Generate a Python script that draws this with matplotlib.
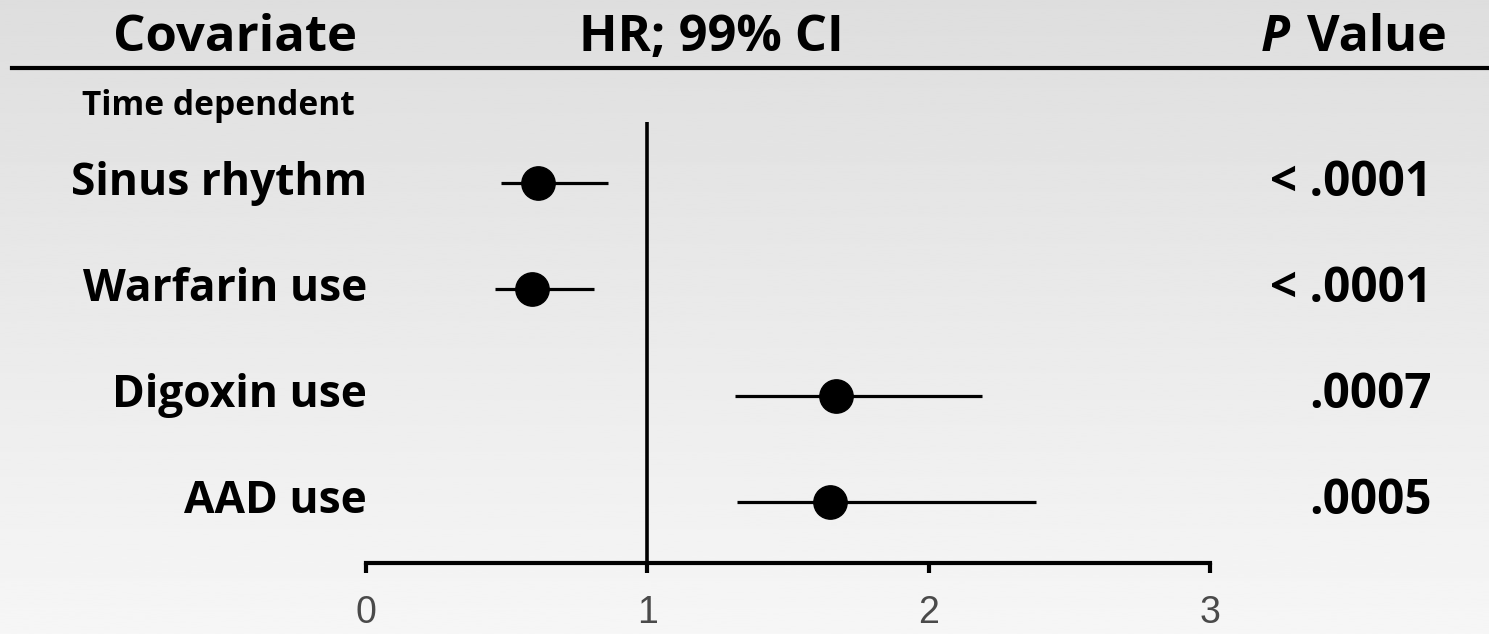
import matplotlib
matplotlib.use("Agg")
import matplotlib.pyplot as plt
import numpy as np
from matplotlib.lines import Line2D

# forest plot values
covariates = ["Sinus rhythm", "Warfarin use", "Digoxin use", "AAD use"]
hr = [0.61, 0.59, 1.67, 1.65]
ci_low = [0.48, 0.46, 1.31, 1.32]
ci_high = [0.86, 0.81, 2.19, 2.38]
p_values = ["< .0001", "< .0001", ".0007", ".0005"]
xticks = [0, 1, 2, 3]

W, H = 1489, 634
font = "Open Sans"

def fx(px):
    return px / W

def fy(py):
    return 1 - py / H

fig = plt.figure(figsize=(W / 100, H / 100), dpi=100)
r = fig.canvas.get_renderer()

def fit_text(x, y, s, width, ha="right", **kw):
    # size the text so its width matches the width seen in the picture
    t = fig.text(fx(x), fy(y), s, ha=ha, va="center", fontsize=20,
                 fontweight="bold", family=font, **kw)
    w = t.get_window_extent(renderer=r).width
    t.set_fontsize(20 * width / w)
    return t

# background gradient
bg = fig.add_axes([0, 0, 1, 1], zorder=-10)
grad = np.linspace(0.87, 0.965, 256).reshape(-1, 1)
bg.imshow(grad, aspect="auto", cmap="gray", vmin=0, vmax=1, extent=[0, 1, 0, 1])
bg.axis("off")

# main plot area: x=0 at px 366, x=3 at px 1210
n = len(covariates)
ypos = np.arange(n, 0, -1)
ax = fig.add_axes([fx(366), fy(563), fx(1210 - 366), (563 - 122) / H])
ax.patch.set_alpha(0)
ax.set_xlim(0, 3)
ax.set_ylim(0.426, n + 0.574)

for y, m, lo, hi in zip(ypos, hr, ci_low, ci_high):
    ax.plot([lo, hi], [y, y], color="black", lw=2.3, solid_capstyle="butt", zorder=3)
    ax.plot(m, y, "o", color="black", ms=24, zorder=4)

ax.axvline(1, color="black", lw=2.6, zorder=2)

for s in ["top", "left", "right"]:
    ax.spines[s].set_visible(False)
ax.spines["bottom"].set_linewidth(3)
ax.set_yticks([])
ax.set_xticks(xticks)
ax.set_xticklabels([str(t) for t in xticks])
ax.tick_params(axis="x", direction="out", length=7, width=3, pad=16,
               labelsize=27, labelcolor="#4a4a4a")
for lab in ax.get_xticklabels():
    lab.set_fontfamily("Liberation Sans")

# header
fit_text(235, 38, "Covariate", 244, ha="center")
fit_text(711, 38, "HR; 99% CI", 265, ha="center")
tv = fit_text(1447, 38, "Value", 140)
bb = tv.get_window_extent(renderer=r)
fig.text((bb.x0 - 17) / W, fy(38), "P", ha="right", va="center",
         fontsize=tv.get_fontsize(), fontweight="bold", style="italic",
         family=font)
fig.add_artist(Line2D([fx(12), 1], [fy(68), fy(68)], color="black", lw=3,
                      transform=fig.transFigure))

fit_text(355, 106, "Time dependent", 273)

# row labels and p values
row_size = None
p_size = None
for y, name, p in zip(ypos, covariates, p_values):
    ty = H - ax.transData.transform((0, y))[1]
    if row_size is None:
        row_size = fit_text(367, ty, name, 295).get_fontsize()
        p_size = fit_text(1432, ty, p, 162).get_fontsize()
        continue
    fig.text(fx(367), fy(ty), name, ha="right", va="center",
             fontsize=row_size, fontweight="bold", family=font)
    fig.text(fx(1432), fy(ty), p, ha="right", va="center",
             fontsize=p_size, fontweight="bold", family=font)

fig.savefig("out.png", dpi=100)
